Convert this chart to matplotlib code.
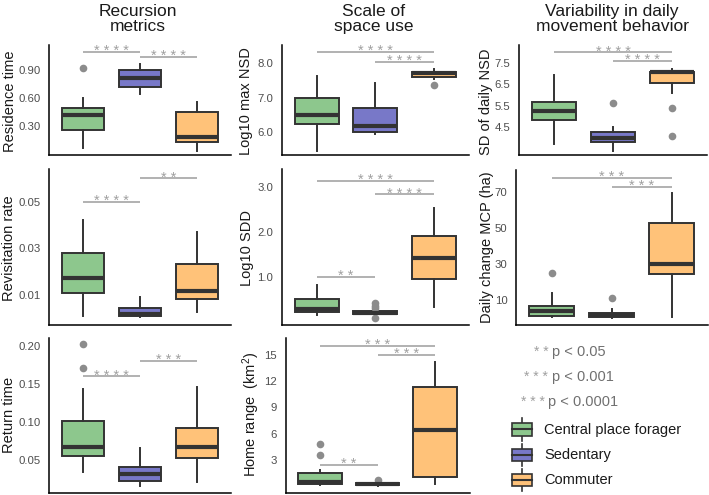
import matplotlib
matplotlib.use('Agg')
import matplotlib.pyplot as plt
from matplotlib.patches import Rectangle
from matplotlib.ticker import FormatStrFormatter

plt.rcParams['font.family'] = ['Liberation Sans', 'DejaVu Sans']
plt.rcParams['mathtext.fontset'] = 'custom'
plt.rcParams['mathtext.rm'] = 'Liberation Sans'
plt.rcParams['mathtext.it'] = 'Liberation Sans:italic'

groups = ['Central place forager', 'Sedentary', 'Commuter']
colors = ['#8DC78D', '#7878C8', '#FFC279']
titles = ['Recursion\nmetrics', 'Scale of\nspace use', 'Variability in daily\nmovement behavior']

# five-number summaries per group: [whisker low, Q1, median, Q3, whisker high]
residence_time = [[0.065, 0.257, 0.418, 0.49, 0.60], [0.64, 0.72, 0.81, 0.90, 0.96], [0.035, 0.132, 0.185, 0.447, 0.56]]
residence_fliers = [[0.925], [], []]
residence_sig = [(0, 1, 1.096, '* * * *'), (1, 2, 1.04, '* * * *')]

max_nsd = [[5.44, 6.22, 6.49, 6.98, 7.63], [5.92, 6.0, 6.17, 6.70, 7.43], [7.55, 7.60, 7.725, 7.76, 7.82]]
max_nsd_fliers = [[], [], [7.37]]
max_nsd_sig = [(0, 2, 8.34, '* * * *'), (1, 2, 8.05, '* * * *')]

sd_nsd = [[3.68, 4.81, 5.25, 5.68, 6.95], [3.34, 3.78, 3.95, 4.26, 4.5], [6.08, 6.55, 7.07, 7.1, 7.22]]
sd_nsd_fliers = [[], [5.63], [5.4, 4.05]]
sd_nsd_sig = [(0, 2, 8.02, '* * * *'), (1, 2, 7.62, '* * * *')]

revisit = [[0.0012, 0.011, 0.0175, 0.0282, 0.0422], [0.0005, 0.0012, 0.0018, 0.0046, 0.009], [0.0026, 0.0082, 0.0118, 0.0232, 0.0369]]
revisit_fliers = [[], [], []]
revisit_sig = [(0, 1, 0.050, '* * * *'), (1, 2, 0.060, '* *')]

sdd = [[0.15, 0.22, 0.28, 0.50, 0.82], [0.14, 0.17, 0.20, 0.24, 0.27], [0.33, 0.96, 1.42, 1.91, 2.52]]
sdd_fliers = [[], [0.41, 0.35, 0.30, 0.08], []]
sdd_sig = [(0, 2, 3.13, '* * * *'), (1, 2, 2.83, '* * * *'), (0, 1, 1.0, '* *')]

mcp = [[0.4, 1.3, 4.1, 6.8, 13.7], [0.3, 0.75, 1.7, 3.0, 5.0], [0.75, 24.4, 29.8, 52.5, 69.1]]
mcp_fliers = [[25.1], [10.9], []]
mcp_sig = [(0, 2, 77.8, '* * *'), (1, 2, 72.6, '* * *')]

return_time = [[0.0346, 0.0553, 0.0675, 0.1016, 0.143], [0.0163, 0.0228, 0.031, 0.041, 0.066], [0.0207, 0.0522, 0.0667, 0.0916, 0.1454]]
return_fliers = [[0.202, 0.170], [], []]
return_sig = [(0, 1, 0.160, '* * * *'), (1, 2, 0.180, '* * *')]

home_range = [[0.14, 0.26, 0.52, 1.48, 1.86], [0.05, 0.15, 0.25, 0.40, 0.50], [0.22, 1.09, 6.43, 11.31, 14.23]]
home_fliers = [[4.79, 3.57], [0.75], []]
home_sig = [(0, 2, 16.06, '* * *'), (1, 2, 15.0, '* * *'), (0, 1, 2.43, '* *')]

pvalue_stars = ['* *', '* * *', '* * *']
pvalue_text = ['p < 0.05', 'p < 0.001', 'p < 0.0001']

W, H = 709, 495
fig = plt.figure(figsize=(W / 100, H / 100), dpi=100)

def px_rect(left, top, right, bottom):
    return [left / W, 1 - bottom / H, (right - left) / W, (bottom - top) / H]

# (stats, fliers, sig, ylim, yticks, fmt, ylabel, (c0, spacing, top, bottom), (label x, label y))
panels = [
    (residence_time, residence_fliers, residence_sig, (-0.011, 1.168), [0.30, 0.60, 0.90], '%.2f', 'Residence time', (83, 57, 45, 155), (10, 101)),
    (max_nsd, max_nsd_fliers, max_nsd_sig, (5.32, 8.535), [6.0, 7.0, 8.0], '%.1f', 'Log10 max NSD', (316.7, 58.6, 45, 155), (246, 101)),
    (sd_nsd, sd_nsd_fliers, sd_nsd_sig, (3.16, 8.37), [4.5, 5.5, 6.5, 7.5], '%.1f', 'SD of daily NSD', (554, 59, 45, 155), (485.5, 102)),
    (revisit, revisit_fliers, revisit_sig, (-0.0028, 0.064), [0.01, 0.03, 0.05], '%.2f', 'Revisitation rate', (83, 57, 169, 325), (9.5, 248)),
    (sdd, sdd_fliers, sdd_sig, (-0.07, 3.39), [1.0, 2.0, 3.0], '%.1f', 'Log10 SDD', (316.7, 58.6, 169, 325), (247, 247.5)),
    (mcp, mcp_fliers, mcp_sig, (-3.85, 82.0), [10, 30, 50, 70], '%d', 'Daily change MCP (ha)', (551.7, 60, 170, 325), (487, 247)),
    (return_time, return_fliers, return_sig, (0.0067, 0.210), [0.05, 0.10, 0.15, 0.20], '%.2f', 'Return time', (83, 57, 338, 493), (9.5, 415)),
    (home_range, home_fliers, home_sig, (-0.77, 16.94), [3, 6, 9, 12, 15], '%d', 'Home range  (km$^2$)', (320, 57.5, 338, 493), (251, 414)),
]

edge = '#333333'
for stats5, fliers, sig, ylim, yticks, fmt, ylabel, geo, lab in panels:
    c0, s, top, bottom = geo
    left = c0 - 0.6 * s
    right = c0 + 2.6 * s
    ax = fig.add_axes(px_rect(left, top, right, bottom))
    stats = [dict(whislo=v[0], q1=v[1], med=v[2], q3=v[3], whishi=v[4], fliers=f)
             for v, f in zip(stats5, fliers)]
    bp = ax.bxp(stats, positions=[0, 1, 2], widths=0.75, patch_artist=True, showcaps=False,
                boxprops=dict(edgecolor=edge, linewidth=1.4),
                medianprops=dict(color=edge, linewidth=3.0, solid_capstyle='butt'),
                whiskerprops=dict(color=edge, linewidth=1.4),
                flierprops=dict(marker='o', markerfacecolor='#8C8C8C', markeredgecolor='none', markersize=5.5))
    for patch, c in zip(bp['boxes'], colors):
        patch.set_facecolor(c)
    for x1, x2, y, txt in sig:
        ax.plot([x1, x2], [y, y], color='#ABABAB', lw=1.3, clip_on=False, solid_capstyle='butt')
        ax.annotate(txt, xy=((x1 + x2) / 2, y), xytext=(0, -2.5), textcoords='offset points',
                    ha='center', va='baseline', color='#A0A0A0', fontsize=10.5, annotation_clip=False)
    ax.set_xlim(-0.6, 2.6)
    ax.set_ylim(*ylim)
    ax.set_yticks(yticks)
    ax.yaxis.set_major_formatter(FormatStrFormatter(fmt))
    ax.set_xticks([])
    ax.tick_params(axis='y', length=0, pad=6, labelsize=8.2, labelcolor='#4D4D4D')
    for sp in ['top', 'right']:
        ax.spines[sp].set_visible(False)
    for sp in ['left', 'bottom']:
        ax.spines[sp].set_linewidth(1.1)
        ax.spines[sp].set_color('black')
    ax.patch.set_alpha(0)
    fig.text(lab[0] / W, 1 - lab[1] / H, ylabel, rotation=90, ha='center', va='center',
             fontsize=10.5, color='#1A1A1A')

# column titles
for xc, t in zip([137.5, 374, 612], titles):
    fig.text(xc / W, 1 - 19 / H, t, ha='center', va='center', fontsize=12.5, linespacing=1.05, color='#1A1A1A')

# legend & p-value key (overlay in pixel coordinates)
ov = fig.add_axes([0, 0, 1, 1])
ov.set_xlim(0, W)
ov.set_ylim(H, 0)
ov.axis('off')

p_x = [551.7, 551.7, 548.3]
p_y = [355.7, 380.7, 406]
for st, pt, x, y in zip(pvalue_stars, pvalue_text, p_x, p_y):
    ov.text(x, y, pt, ha='left', va='baseline', fontsize=10.5, color='#707070')
    ov.text(x - 3.5, y, st, ha='right', va='baseline', fontsize=10, color='#A0A0A0')

leg_y = [429.3, 455.0, 480.0]
for yc, c, g in zip(leg_y, colors, groups):
    ov.plot([522, 522], [yc - 11.3, yc + 11.3], color=edge, lw=1.2)
    ov.add_patch(Rectangle((512, yc - 6.3), 20, 12.6, facecolor=c, edgecolor=edge, lw=1.2, zorder=3))
    ov.plot([512, 532], [yc, yc], color=edge, lw=1.5, zorder=4)
    ov.text(544, yc + 4.5, g, ha='left', va='baseline', fontsize=10.5, color='#1A1A1A')

fig.savefig('out.png', dpi=100)
